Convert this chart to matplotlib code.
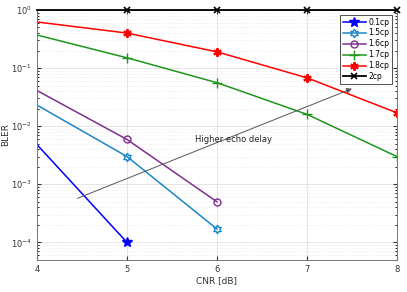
import numpy as np
import matplotlib.pyplot as plt
from matplotlib.path import Path

# CNR [dB] and BLER per echo delay
cnr = [4, 5, 6, 7, 8]
bler_01 = [4.8e-3, 1.0e-4]
bler_15 = [2.3e-2, 3.0e-3, 1.7e-4]
bler_16 = [4.1e-2, 5.9e-3, 5.0e-4]
bler_17 = [0.37, 0.15, 0.056, 0.016, 0.003]
bler_18 = [0.62, 0.40, 0.19, 0.068, 0.017]
bler_2 = [1.0, 1.0, 1.0, 1.0, 1.0]
labels = ['0.1cp', '1.5cp', '1.6cp', '1.7cp', '1.8cp', '2cp']

# hexagram marker (two triangles)
ang = np.pi / 2 + np.arange(12) * np.pi / 6
rad = np.where(np.arange(12) % 2 == 0, 1.0, 0.58)
hexagram = Path(np.c_[rad * np.cos(ang), rad * np.sin(ang)].tolist() + [[0, 1]], closed=True)

plt.rcParams['font.family'] = 'DejaVu Sans'
fig = plt.figure(figsize=(4.07, 2.92), dpi=100)
ax = fig.add_axes([0.091, 0.11, 0.884, 0.856])

me = slice(1, None)  # first point sits on the left edge, no marker shown there
ax.plot(cnr[:2], bler_01, '-', color='#0000ff', marker='*', ms=7, lw=1.1, markevery=me, label=labels[0])
ax.plot(cnr[:3], bler_15, '-', color='#1a86c8', marker=hexagram, ms=6, mfc='none', mew=1, lw=1.1, markevery=me, label=labels[1])
ax.plot(cnr[:3], bler_16, '-', color='#7e2f8e', marker='o', ms=5, mfc='none', mew=1, lw=1.1, markevery=me, label=labels[2])
ax.plot(cnr, bler_17, '-', color='#1e961e', marker='+', ms=7, mew=1, lw=1.1, markevery=me, label=labels[3])
ax.plot(cnr, bler_18, '-', color='#ff0000', marker=(6, 2, 0), ms=6, mew=1.5, lw=1.1, markevery=me, label=labels[4])
ax.plot(cnr, bler_2, '-', color='#000000', marker='x', ms=4, mew=1.2, lw=1.3, markevery=me,
        clip_on=False, zorder=5, label=labels[5])

ax.annotate('', xy=(7.53, 0.046), xytext=(4.42, 5.5e-4),
            arrowprops=dict(arrowstyle='-|>', color='#555555', lw=0.7, mutation_scale=8))
ax.text(5.76, 0.0059, 'Higher echo delay', fontsize=6, va='center', ha='left', color='#222222')

ax.set_yscale('log')
ax.set_xlim(4, 8)
ax.set_ylim(5e-5, 1)
ax.set_xticks([4, 5, 6, 7, 8])
ax.set_yticks([1e-4, 1e-3, 1e-2, 1e-1, 1])
ax.tick_params(labelsize=6, colors='#333333', direction='in', length=3, top=True, right=True)
ax.tick_params(which='minor', direction='in', length=1.5, top=True, right=True)
ax.grid(True, which='major', color='#e0e0e0', lw=0.6)
ax.grid(True, which='minor', color='#e4e4e4', lw=0.5, ls=':')
for s in ax.spines.values():
    s.set_color('#777777')
    s.set_linewidth(0.7)

ax.set_xlabel('CNR [dB]', fontsize=6.5, color='#333333', labelpad=2)
ax.set_ylabel('BLER', fontsize=6.5, color='#333333', labelpad=1)

leg = ax.legend(loc='upper right', fontsize=5.5, fancybox=False, framealpha=1,
                edgecolor='#333333', borderpad=0.4, labelspacing=0.25, handlelength=3,
                handletextpad=0.3, borderaxespad=0.6)
leg.get_frame().set_linewidth(0.6)
leg.set_zorder(6)

fig.savefig('out.png', dpi=100)
